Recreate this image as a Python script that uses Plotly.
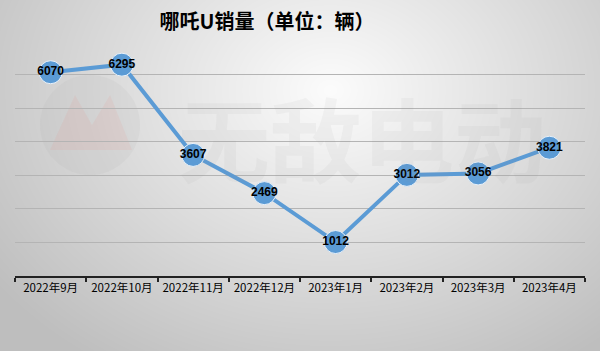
import base64, struct, zlib
import numpy as np
import plotly.graph_objects as go

months = ["2022年9月", "2022年10月", "2022年11月", "2022年12月",
          "2023年1月", "2023年2月", "2023年3月", "2023年4月"]
sales = [6070, 6295, 3607, 2469, 1012, 3012, 3056, 3821]

W, H = 600, 351
L, R, T, B = 15, 15, 41, 75
PW, PH = W - L - R, H - T - B

# background gradient image (radial, light at upper centre, darker at bottom corners)
yy, xx = np.mgrid[0:H, 0:W]
dx = (xx - 330) / 420.0
dy = (yy - 90) / 330.0
d = np.sqrt(dx * dx + dy * dy)
val = np.clip(252 - 62 * d, 190, 252).astype(np.uint8)
rows = b"".join(b"\x00" + bytes(np.repeat(r, 3)) for r in val)
def chunk(t, data):
    c = struct.pack(">I", len(data)) + t + data
    return c + struct.pack(">I", zlib.crc32(t + data) & 0xffffffff)
png = (b"\x89PNG\r\n\x1a\n" + chunk(b"IHDR", struct.pack(">IIBBBBB", W, H, 8, 2, 0, 0, 0))
       + chunk(b"IDAT", zlib.compress(rows, 9)) + chunk(b"IEND", b""))
bg_uri = "data:image/png;base64," + base64.b64encode(png).decode()

def px(x):
    return (x - L) / PW
def py(y):
    return (H - B - y) / PH

fig = go.Figure()
fig.add_trace(go.Scatter(
    x=months, y=sales, mode="lines+markers+text",
    line=dict(color="#5b9bd5", width=4),
    marker=dict(size=23, color="#5b9bd5", line=dict(color="#eaf2fa", width=1)),
    text=[str(v) for v in sales], textposition="middle center",
    textfont=dict(family="Liberation Sans, Arial", size=12, color="black", weight="bold"),
    cliponaxis=False, hoverinfo="skip", showlegend=False,
))

fig.add_layout_image(dict(source=bg_uri, xref="paper", yref="paper", x=px(0), y=py(0),
                          sizex=W / PW, sizey=H / PH, xanchor="left", yanchor="top",
                          sizing="stretch", layer="below"))

# watermark
fig.add_shape(type="circle", xref="paper", yref="paper",
              x0=px(40), x1=px(140), y0=py(175), y1=py(75),
              fillcolor="rgba(170,170,170,0.12)", line=dict(width=0), layer="below")
fig.add_shape(type="path", xref="paper", yref="paper",
              path="M {:.4f},{:.4f} L {:.4f},{:.4f} L {:.4f},{:.4f} L {:.4f},{:.4f} L {:.4f},{:.4f} Z".format(
                  px(50), py(150), px(75), py(95), px(92), py(125), px(110), py(95), px(132), py(150)),
              fillcolor="rgba(235,130,120,0.10)", line=dict(width=0), layer="below")
fig.add_annotation(text="无敌电动", xref="paper", yref="paper",
                   x=px(362), y=py(135), showarrow=False,
                   font=dict(family="Noto Sans CJK SC", size=92, color="rgba(150,150,150,0.08)",
                             weight="bold"))

fig.update_layout(
    width=W, height=H,
    margin=dict(l=L, r=R, t=T, b=B),
    paper_bgcolor="#dcdcdc", plot_bgcolor="rgba(0,0,0,0)",
    title=dict(text="哪吒U销量（单位：辆）", x=267 / W, xanchor="center",
               y=1 - 22 / H, yanchor="middle",
               font=dict(family="Noto Sans CJK SC", size=20, color="black", weight="bold")),
    xaxis=dict(type="category", range=[-0.5, 7.5], showline=True, linecolor="#222",
               linewidth=1.5, ticks="outside", tickson="boundaries", ticklen=4,
               tickcolor="#222", tickwidth=1.5, showgrid=False,
               tickfont=dict(family="Noto Sans CJK SC", size=11.5, color="black")),
    yaxis=dict(range=[0, 7000], dtick=1000, showticklabels=False, showgrid=True,
               gridcolor="#b4b4b4", gridwidth=1, zeroline=False, showline=False),
)

fig.write_html("out.html")
